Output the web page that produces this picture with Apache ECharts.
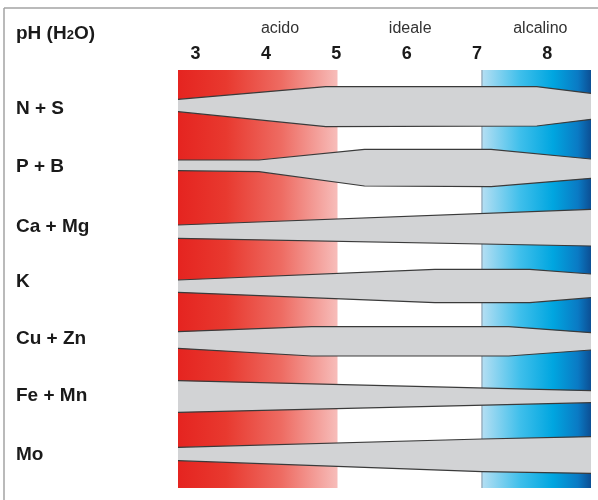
<!DOCTYPE html>
<html><head><meta charset="utf-8">
<script src="https://cdn.jsdelivr.net/npm/echarts@6/dist/echarts.min.js"></script>
<style>html,body{margin:0;padding:0;background:#fff}#c{width:598px;height:500px}</style>
</head><body><div id="c"></div><script>
// pH tick labels
const phTicks = [3, 4, 5, 6, 7, 8];
const phMin = 2.75, phMax = 8.62;
// zones
const zoneNames = ['acido', 'ideale', 'alcalino'];
const zoneFrom = [2.75, 5.02, 7.07];
const zoneTo = [5.02, 7.07, 8.62];
const zoneLabelPh = [4.2, 6.05, 7.9];
// nutrients (rows)
const nutrients = ['N + S', 'P + B', 'Ca + Mg', 'K', 'Cu + Zn', 'Fe + Mn', 'Mo'];
// vertical scale: 0 = top of chart area, 418 = bottom
const rowLabelY = [39, 97, 157, 212, 269, 326, 385];
// band edges (availability) per nutrient: pH points, upper edge, lower edge
const nsPh = [2.75, 4.85, 7.85, 8.62];
const nsTop = [29.3, 16.7, 16.7, 23.3];
const nsBot = [41.7, 56.7, 56.0, 49.3];
const pbPh = [2.75, 3.9, 5.4, 7.2, 8.62];
const pbTop = [90.0, 90.0, 79.3, 79.3, 89.0];
const pbBot = [100.7, 101.7, 116.0, 116.7, 108.3];
const camgPh = [2.75, 8.62];
const camgTop = [155.0, 139.3];
const camgBot = [168.3, 176.0];
const kPh = [2.75, 6.4, 7.75, 8.62];
const kTop = [210.0, 199.3, 199.3, 204.0];
const kBot = [222.3, 232.7, 232.7, 227.7];
const cuznPh = [2.75, 4.65, 7.45, 8.62];
const cuznTop = [261.7, 256.7, 256.7, 262.7];
const cuznBot = [278.3, 286.0, 286.0, 280.0];
const femnPh = [2.75, 8.62];
const femnTop = [310.7, 320.7];
const femnBot = [342.3, 332.7];
const moPh = [2.75, 7.07, 8.62];
const moTop = [377.3, 369.0, 366.7];
const moBot = [390.7, 401.7, 403.3];

const bands = [
  {ph: nsPh, top: nsTop, bot: nsBot},
  {ph: pbPh, top: pbTop, bot: pbBot},
  {ph: camgPh, top: camgTop, bot: camgBot},
  {ph: kPh, top: kTop, bot: kBot},
  {ph: cuznPh, top: cuznTop, bot: cuznBot},
  {ph: femnPh, top: femnTop, bot: femnBot},
  {ph: moPh, top: moTop, bot: moBot}
];

const FONT = '"Liberation Sans", Arial, sans-serif';
const zoneFills = [
  {type: 'linear', x: 0, y: 0, x2: 1, y2: 0, colorStops: [
    {offset: 0, color: '#e52420'}, {offset: 0.3, color: '#e8392f'},
    {offset: 0.65, color: '#ee6c63'}, {offset: 1, color: '#f7bdba'}]},
  '#ffffff',
  {type: 'linear', x: 0, y: 0, x2: 1, y2: 0, colorStops: [
    {offset: 0, color: '#b5dff3'}, {offset: 0.35, color: '#3fbfeb'},
    {offset: 0.65, color: '#00a6e0'}, {offset: 0.88, color: '#0a7ac4'}, {offset: 1, color: '#0c4f94'}]}
];

const chart = echarts.init(document.getElementById('c'), null, {renderer: 'canvas'});
chart.setOption({
  animation: false,
  backgroundColor: '#ffffff',
  grid: {left: 178, top: 70, width: 413, height: 418},
  xAxis: {
    type: 'value', position: 'top', min: phMin, max: phMax,
    axisLine: {show: false}, axisTick: {show: false}, splitLine: {show: false},
    axisLabel: {customValues: phTicks, fontSize: 18, fontWeight: 'bold', color: '#1a1a1a',
      fontFamily: FONT, margin: 7}
  },
  yAxis: {type: 'value', inverse: true, min: 0, max: 418, show: false},
  graphic: [
    {type: 'line', shape: {x1: 4, y1: 8, x2: 598, y2: 8}, style: {stroke: '#a3a3a3', lineWidth: 1.5}},
    {type: 'line', shape: {x1: 4, y1: 8, x2: 4, y2: 500}, style: {stroke: '#a3a3a3', lineWidth: 1.5}},
    {type: 'text', left: 16, top: 24, style: {
      text: '{a|pH (H}{s|2}{a|O)}', rich: {
        a: {fontSize: 19, fontWeight: 'bold', fill: '#1a1a1a', fontFamily: FONT},
        s: {fontSize: 13, fontWeight: 'bold', fill: '#1a1a1a', fontFamily: FONT, padding: [4, 0, 0, 0]}
      }}}
  ],
  series: [
    {
      type: 'custom', clip: false, z: 1,
      data: zoneFrom.map((f, i) => [f, zoneTo[i], i]),
      renderItem: function (params, api) {
        const i = api.value(2);
        const p0 = api.coord([zoneFrom[i], 0]);
        const p1 = api.coord([zoneTo[i], 418]);
        const lab = api.coord([zoneLabelPh[i], 0]);
        const children = [
          {type: 'rect', shape: {x: p0[0], y: p0[1], width: p1[0] - p0[0], height: p1[1] - p0[1]},
            style: {fill: zoneFills[i]}},
          {type: 'text', x: lab[0], y: lab[1] - 41, style: {text: zoneNames[i], fontSize: 16,
            fill: '#333', fontFamily: FONT, align: 'center', verticalAlign: 'middle'}}
        ];
        if (i === 2) {
          children.push({type: 'line', shape: {x1: p0[0], y1: p0[1], x2: p0[0], y2: p1[1]},
            style: {stroke: '#7d95a6', lineWidth: 1}});
        }
        return {type: 'group', children: children};
      }
    },
    {
      type: 'custom', clip: false, z: 2,
      data: nutrients.map((n, i) => ({name: n, value: [5, 200, i]})),
      renderItem: function (params, api) {
        const i = api.value(2);
        const b = bands[i];
        const topPts = b.ph.map((p, k) => api.coord([p, b.top[k]]));
        const botPts = b.ph.map((p, k) => api.coord([p, b.bot[k]]));
        const poly = topPts.concat(botPts.slice().reverse());
        const lp = api.coord([phMin, rowLabelY[i]]);
        return {type: 'group', children: [
          {type: 'polygon', shape: {points: poly}, style: {fill: '#d2d3d5'}},
          {type: 'polyline', shape: {points: topPts}, style: {stroke: '#3a3a3a', lineWidth: 1.2, fill: null}},
          {type: 'polyline', shape: {points: botPts}, style: {stroke: '#3a3a3a', lineWidth: 1.2, fill: null}},
          {type: 'text', x: lp[0] - 162, y: lp[1], style: {text: nutrients[i], fontSize: 19,
            fontWeight: 'bold', fill: '#1a1a1a', fontFamily: FONT, align: 'left', verticalAlign: 'middle'}}
        ]};
      }
    }
  ]
});
</script></body></html>
